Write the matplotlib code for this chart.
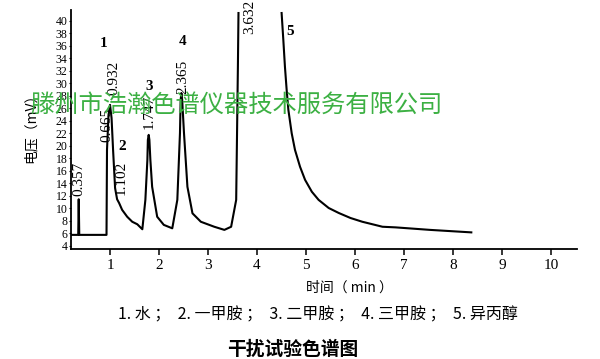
import numpy as np
import matplotlib
matplotlib.use("Agg")
import matplotlib.pyplot as plt

### DATA ###
# retention time (min) / signal (mV); nan = off scale
t = [0.177, 0.352, 0.362, 0.373, 0.929, 0.939, 0.970, 1.001, 1.032, 1.063,
     1.104, 1.145, 1.186, 1.248, 1.351, 1.454, 1.557, 1.660, 1.722, 1.763,
     1.773, 1.790, 1.804, 1.824, 1.860, 1.963, 2.098, 2.271, 2.374, 2.428,
     2.442, 2.457, 2.473, 2.510, 2.580, 2.683, 2.854, 3.128, 3.334, 3.472,
     3.575, 3.610, 3.622, np.nan,
     4.502, 4.537, 4.570, 4.605, 4.640, 4.708, 4.775, 4.878, 4.981, 5.119,
     5.257, 5.463, 5.669, 5.908, 6.149, 6.355, 6.560, 6.829, 7.529, 8.373]
mv = [5.7, 5.7, 11.4, 5.7, 5.7, 19.3, 24.9, 26.5, 24.4, 19.3,
      13.2, 11.4, 10.8, 9.7, 8.6, 7.8, 7.4, 6.6, 11.3, 17.7,
      20.9, 21.7, 20.9, 17.7, 13.4, 8.6, 7.3, 6.75, 11.3, 22.0,
      27.3, 28.4, 27.3, 22.0, 13.4, 9.15, 7.8, 7.0, 6.5, 7.0,
      11.3, 32.6, 41.2, np.nan,
      41.2, 36.9, 32.6, 28.9, 25.7, 21.95, 19.3, 16.6, 14.5, 12.6,
      11.3, 10.0, 9.2, 8.4, 7.8, 7.4, 7.0, 6.9, 6.5, 6.1]

# peak numbers and retention-time labels (text, t, mV)
peak_nums = [("1", 0.877, 36.4), ("2", 1.25, 19.8), ("3", 1.79, 29.5),
             ("4", 2.48, 36.6), ("5", 4.67, 38.3)]
rt_labels = [("0.357", 0.37, 14.6), ("0.665", 0.93, 23.3), ("0.932", 1.07, 30.8),
             ("1.102", 1.23, 14.8), ("1.747", 1.79, 25.4), ("2.365", 2.48, 31.0),
             ("3.632", 3.85, 40.6)]

xticks = list(range(1, 11))
yticks = list(range(4, 41, 2))

caption = "1. 水 ；  2. 一甲胺 ；  3. 二甲胺 ；  4. 三甲胺 ；  5. 异丙醇"
title = "干扰试验色谱图"
watermark = "滕州市浩瀚色谱仪器技术服务有限公司"

cjk = ["Noto Sans CJK SC", "DejaVu Sans"]
serif = ["Liberation Serif", "DejaVu Serif"]

### PLOT ###
fig = plt.figure(figsize=(6, 3.59), dpi=100, facecolor="w")
ax = fig.add_axes([0.1183, 0.3064, 0.8434, 0.6657])

ax.plot(t, mv, color="k", lw=1.5, solid_joinstyle="round")

ax.set_xlim(0.204, 10.53)
ax.set_ylim(3.44, 41.68)
ax.set_xticks(xticks)
ax.set_yticks(yticks)
for s in ["top", "right"]:
    ax.spines[s].set_visible(False)
for s in ["left", "bottom"]:
    ax.spines[s].set_linewidth(1.3)
ax.tick_params(axis="x", direction="out", length=4, width=1.1, pad=3, labelsize=11)
ax.tick_params(axis="y", direction="out", length=1.5, width=0.8, pad=1, labelsize=8.5)
for lab in ax.get_xticklabels() + ax.get_yticklabels():
    lab.set_family(serif)

for txt, x, y in peak_nums:
    ax.text(x, y, txt, family=serif, fontsize=11, fontweight="bold",
            ha="center", va="center")
for txt, x, y in rt_labels:
    ax.text(x, y, txt, family=serif, fontsize=11, rotation=90,
            ha="center", va="center")

fig.text(31 / 600, 1 - 125 / 359, "电压（mV）", family=cjk, fontsize=10,
         rotation=90, ha="center", va="center")
fig.text(349 / 600, 1 - 288 / 359, "时间（ min ）", family=cjk, fontsize=10,
         ha="center", va="center")
fig.text(318 / 600, 1 - 315 / 359, caption, family=cjk, fontsize=11.5,
         ha="center", va="center")
fig.text(293 / 600, 1 - 349 / 359, title, family=cjk, fontsize=13.5,
         fontweight="bold", ha="center", va="center")

# green watermark over the scan
fig.text(236 / 600, 1 - 105 / 359, watermark, family=cjk, fontsize=17.5,
         color="#3cb043", ha="center", va="center")

fig.savefig("out.png", dpi=100, facecolor="w")
